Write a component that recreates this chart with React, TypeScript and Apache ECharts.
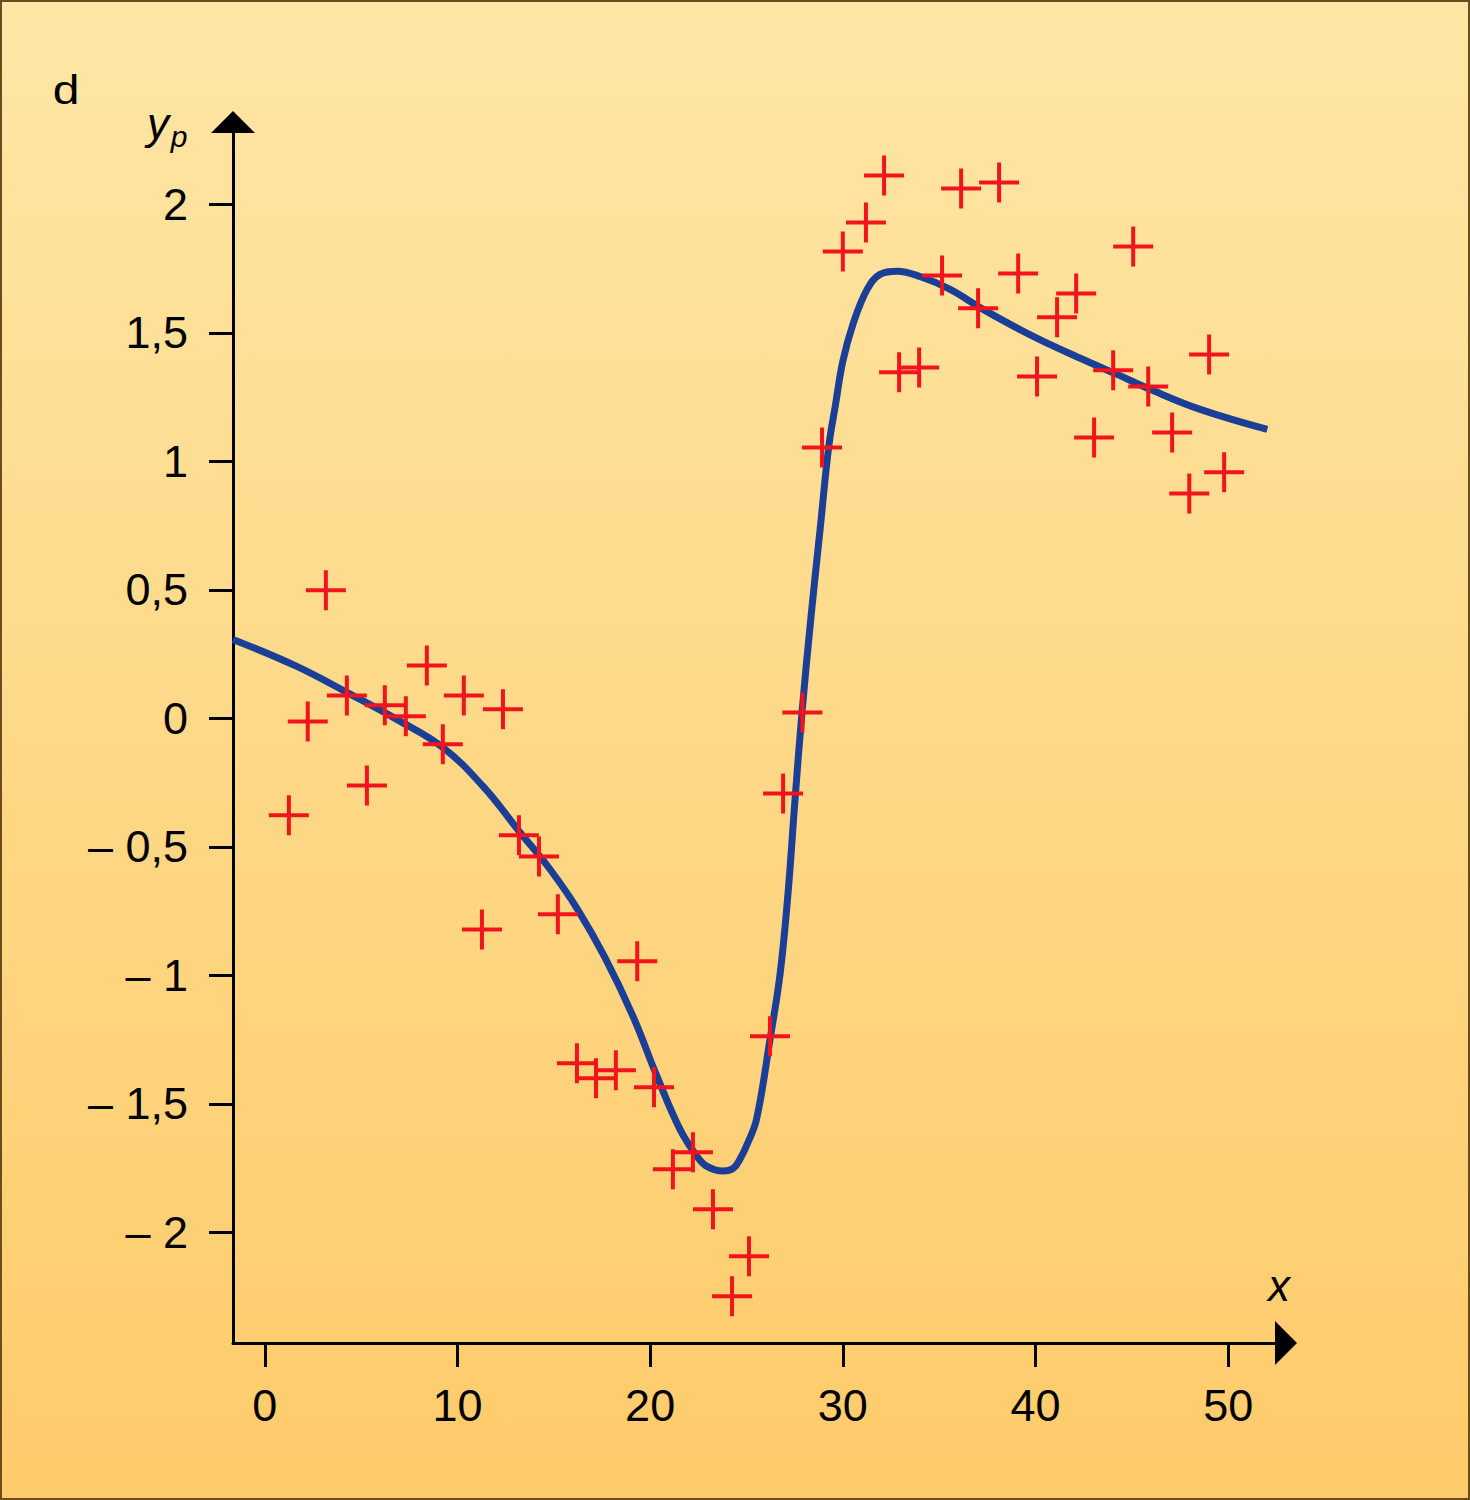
import React, { useEffect, useRef } from 'react';
import * as echarts from 'echarts';

// Measured data points (red crosses)
const crossX = [1.25, 2.23, 3.17, 4.26, 5.3, 6.23, 7.32, 8.41, 9.24, 10.33, 11.27, 12.36, 13.19, 14.23, 15.21, 16.2, 17.19, 18.22, 19.33, 20.2, 21.18, 22.22, 23.26, 24.25, 25.13, 26.22, 26.9, 27.9, 28.92, 30.0, 31.2, 32.14, 32.92, 33.96, 35.15, 36.14, 37.02, 38.11, 39.1, 40.08, 41.12, 42.11, 43.04, 44.03, 45.07, 45.85, 47.09, 47.98, 49.01, 49.79];
const crossY = [-0.377, -0.012, 0.498, 0.089, -0.261, 0.051, 0.008, 0.206, -0.101, 0.089, -0.821, 0.035, -0.455, -0.537, -0.762, -1.342, -1.4, -1.369, -0.945, -1.435, -1.754, -1.688, -1.91, -2.248, -2.093, -1.237, -0.292, 0.023, 1.054, 1.816, 1.929, 2.112, 1.346, 1.365, 1.723, 2.061, 1.595, 2.085, 1.731, 1.33, 1.56, 1.653, 1.093, 1.354, 1.836, 1.291, 1.112, 0.875, 1.416, 0.957];

// Fitted curve (blue)
const curveX = [-1.65, 1.66, 4.26, 6.85, 9.24, 11.32, 13.24, 14.8, 16.2, 17.65, 19.11, 20.35, 21.55, 22.43, 22.95, 23.78, 24.31, 24.66, 25.08, 25.52, 26.22, 26.74, 27.15, 27.52, 27.88, 28.35, 28.82, 29.27, 29.63, 30.0, 30.52, 31.26, 31.93, 32.81, 34.0, 35.57, 37.28, 39.88, 42.47, 44.24, 45.95, 48.55, 52.03];
const curveY = [0.307, 0.202, 0.101, -0.004, -0.113, -0.264, -0.443, -0.587, -0.739, -0.93, -1.159, -1.392, -1.599, -1.704, -1.743, -1.761, -1.751, -1.715, -1.649, -1.56, -1.249, -0.996, -0.685, -0.315, 0.023, 0.397, 0.735, 1.058, 1.225, 1.389, 1.532, 1.669, 1.727, 1.739, 1.719, 1.669, 1.591, 1.486, 1.396, 1.338, 1.28, 1.202, 1.124];

const xTicks = [0, 10, 20, 30, 40, 50];
const yTicks = [-2, -1.5, -1, -0.5, 0, 0.5, 1, 1.5, 2];

const FONT = '"Liberation Sans", Arial, Helvetica, sans-serif';
const CROSS = 'path://M-2,-20L2,-20L2,-2L20,-2L20,2L2,2L2,20L-2,20L-2,2L-20,2L-20,-2L-2,-2Z';

export default function App() {
  const ref = useRef<HTMLDivElement>(null);

  useEffect(() => {
    if (!ref.current) return;
    const chart = echarts.init(ref.current, undefined, { renderer: 'svg' });

    const scatterData = crossX.map((x, i) => [x, crossY[i]]);
    const curveData = curveX.map((x, i) => [x, curveY[i]]);

    const fmtY = (v: number) => {
      const s = String(Math.abs(v)).replace('.', ',');
      return v < 0 ? '– ' + s : s;
    };

    chart.setOption({
      animation: false,
      backgroundColor: {
        type: 'linear', x: 0, y: 0, x2: 0, y2: 1,
        colorStops: [
          { offset: 0, color: '#FEE6A5' },
          { offset: 1, color: '#FECB6A' },
        ],
      },
      grid: { left: 233, top: 122, width: 1053, height: 1221, containLabel: false },
      xAxis: {
        type: 'value',
        min: -1.65,
        max: 53,
        splitLine: { show: false },
        axisLine: {
          onZero: false,
          lineStyle: { color: '#000', width: 3 },
          symbol: ['none', 'triangle'],
          symbolSize: [44, 22],
        },
        axisTick: { show: true, length: 24, lineStyle: { color: '#000', width: 3 }, customValues: xTicks },
        axisLabel: {
          customValues: xTicks,
          margin: 40,
          fontSize: 45,
          fontFamily: FONT,
          color: '#000',
          formatter: (v: number) => String(v),
        },
      },
      yAxis: {
        type: 'value',
        min: -2.43,
        max: 2.32,
        splitLine: { show: false },
        axisLine: {
          show: true,
          onZero: false,
          lineStyle: { color: '#000', width: 3 },
          symbol: ['none', 'triangle'],
          symbolSize: [44, 22],
        },
        axisTick: { show: true, length: 24, lineStyle: { color: '#000', width: 3 }, customValues: yTicks },
        axisLabel: {
          customValues: yTicks,
          margin: 45,
          fontSize: 45,
          fontFamily: FONT,
          color: '#000',
          formatter: fmtY,
        },
      },
      series: [
        {
          type: 'line',
          data: curveData,
          showSymbol: false,
          smooth: 0.4,
          lineStyle: { color: '#1B3E96', width: 7 },
          z: 2,
          silent: true,
        },
        {
          type: 'scatter',
          data: scatterData,
          symbol: CROSS,
          symbolSize: 40,
          itemStyle: { color: '#F2141C', opacity: 1 },
          z: 3,
          silent: true,
        },
      ],
      graphic: [
        {
          type: 'rect',
          shape: { x: 1, y: 1, width: 1468, height: 1498 },
          style: { fill: 'none', stroke: '#6B4C1E', lineWidth: 2 },
          silent: true,
          z: 100,
        },
        {
          type: 'text',
          x: 66,
          y: 90,
          scaleX: 1.2,
          style: { text: 'd', font: '40px "Liberation Sans", Arial, sans-serif', fill: '#000', align: 'center', verticalAlign: 'middle' },
        },
        {
          type: 'text',
          x: 158,
          y: 123,
          style: { text: 'y', font: 'italic 44px "Liberation Sans", Arial, sans-serif', fill: '#000', align: 'center', verticalAlign: 'middle' },
        },
        {
          type: 'text',
          x: 179,
          y: 136,
          style: { text: 'p', font: 'italic 30px "Liberation Sans", Arial, sans-serif', fill: '#000', align: 'center', verticalAlign: 'middle' },
        },
        {
          type: 'text',
          x: 1279,
          y: 1285,
          style: { text: 'x', font: 'italic 44px "Liberation Sans", Arial, sans-serif', fill: '#000', align: 'center', verticalAlign: 'middle' },
        },
      ],
    });

    return () => chart.dispose();
  }, []);

  return (
    <div
      ref={ref}
      style={{ position: 'fixed', left: 0, top: 0, width: 1470, height: 1500 }}
    />
  );
}
